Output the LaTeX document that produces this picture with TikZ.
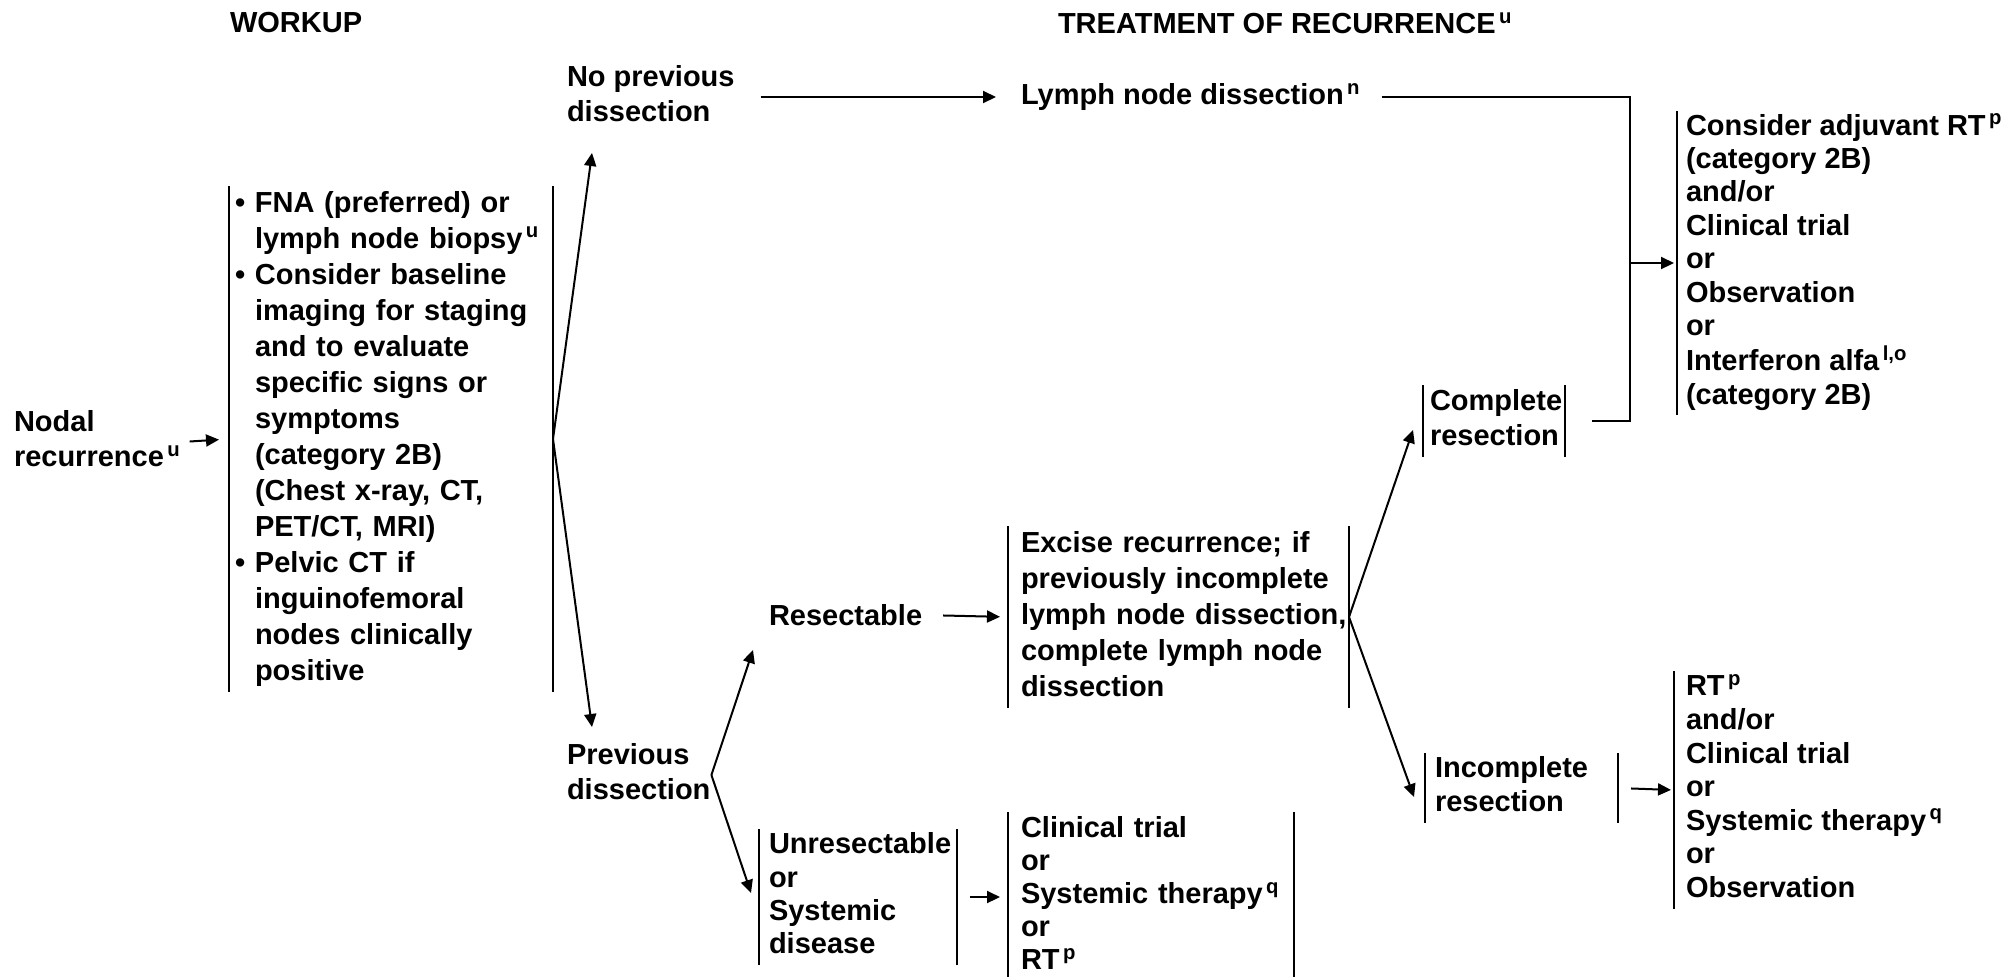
\documentclass[tikz,border=0pt]{standalone}
\usepackage{fontspec}
\setmainfont{Liberation Sans}
\usetikzlibrary{arrows.meta}
\newcommand{\fnm}[1]{\textsuperscript{\,#1}}
\newcommand{\tl}[1]{\begin{tabular}{@{}l@{}}#1\end{tabular}}
\newcommand{\bul}{\makebox[12.5pt][l]{\hspace*{2.5pt}\textbullet}}
\newcommand{\ind}{\hspace*{12.5pt}}
\newcommand{\fsz}[1]{\fontsize{14.5pt}{#1}\selectfont\bfseries}
\begin{document}
\begin{tikzpicture}[x=0.5pt,y=-0.5pt,line width=1pt,
  every node/.style={inner sep=0pt,anchor=west,align=left,font=\fsz{17.5pt}},
  arr/.style={-{Triangle[length=6.5pt,width=6pt]}},
  bx/.style={inner ysep=0pt}
]
\useasboundingbox (0,0) rectangle (2016,976);

% headers
\node (hw) at (229,23) {WORKUP};
\node (ht) at (1057,23) {TREATMENT OF RECURRENCE\fnm{u}};

% nodes
\node (nodal) at (13,442) {\tl{Nodal\\recurrence\fnm{u}}};
\node[bx,inner xsep=0pt,minimum height=251pt,text width=161pt,font=\fsz{18pt}] (wk) at (229,439) {\tl{%
\bul FNA (preferred) or\\
\ind lymph node biopsy\fnm{u}\\
\bul Consider baseline\\
\ind imaging for staging\\
\ind and to evaluate\\
\ind specific signs or\\
\ind symptoms\\
\ind (category 2B)\\
\ind (Chest x-ray, CT,\\
\ind PET/CT, MRI)\\
\bul Pelvic CT if\\
\ind inguinofemoral\\
\ind nodes clinically\\
\ind positive}};
\node (np) at (566,97) {\tl{No previous\\dissection}};
\node (lnd) at (1020,97) {Lymph node dissection\fnm{n}};
\node[bx,inner xsep=4pt,minimum height=150pt,font=\fsz{16.7pt}] (adj) at (1677,263) {\tl{%
Consider adjuvant RT\fnm{p}\\
(category 2B)\\
and/or\\
Clinical trial\\
or\\
Observation\\
or\\
Interferon alfa\fnm{l,o}\\
(category 2B)}};
\node[bx,inner xsep=3pt,minimum height=33.5pt,text width=64pt] (cr) at (1423,421) {\tl{Complete\\resection}};
\node (res) at (768,615) {Resectable};
\node[bx,inner xsep=6pt,minimum height=90pt,text width=157.5pt,font=\fsz{18pt}] (ex) at (1008,617) {\tl{%
Excise recurrence; if\\
previously incomplete\\
lymph node dissection,\\
complete lymph node\\
dissection}};
\node (prev) at (566,775) {\tl{Previous\\dissection}};
\node[bx,inner xsep=4.5pt,minimum height=65.5pt,text width=89pt,font=\fsz{16.7pt}] (un) at (759,897) {\tl{%
Unresectable\\
or\\
Systemic\\
disease}};
\node[bx,inner xsep=6pt,minimum height=84pt,text width=130pt,font=\fsz{16.5pt}] (ct) at (1008,897) {\tl{%
Clinical trial\\
or\\
Systemic therapy\fnm{q}\\
or\\
RT\fnm{p}}};
\node[bx,inner xsep=4.5pt,minimum height=31pt,text width=86.5pt,font=\fsz{17pt}] (inc) at (1425,788) {\tl{Incomplete\\resection}};
\node[bx,inner xsep=5.5pt,minimum height=116.5pt,font=\fsz{16.8pt}] (rt) at (1674,790) {\tl{%
RT\fnm{p}\\
and/or\\
Clinical trial\\
or\\
Systemic therapy\fnm{q}\\
or\\
Observation}};

% bars
\foreach \n in {wk,cr,ex,un,ct,inc}{
  \draw (\n.north west) -- (\n.south west) (\n.north east) -- (\n.south east);
}
\foreach \n in {adj,rt}{
  \draw (\n.north west) -- (\n.south west);
}

% coordinates
\coordinate (npin) at (592,153);
\coordinate (pvin) at (592,727);
\coordinate (resin) at (753,650);
\coordinate (unin) at (751,893);
\coordinate (crin) at (1413,430);
\coordinate (incin) at (1414,797);
\coordinate (jt) at (1630,97);
\coordinate (jb) at (1630,421);
\coordinate (jm) at (1630,263);

% connectors
\draw[arr,shorten <=4pt,shorten >=5pt] (nodal.east) -- (wk.west);
\draw[arr] (wk.east) -- (npin);
\draw[arr] (wk.east) -- (pvin);
\draw[arr,shorten <=12.5pt,shorten >=12pt] (np.east) -- (lnd.west);
\draw[shorten <=10pt] (lnd.east) -- (jt) -- (jb) -- ([xshift=13.5pt]cr.east);
\draw[arr,shorten >=1.5pt] (jm) -- (adj.west);
\draw[arr] (prev.east) -- (resin);
\draw[arr] (prev.east) -- (unin);
\draw[arr,shorten <=10pt,shorten >=4pt] (res.east) -- (ex.west);
\draw[arr] (ex.east) -- (crin);
\draw[arr] (ex.east) -- (incin);
\draw[arr,shorten <=6.5pt,shorten >=4pt] (un.east) -- (ct.west);
\draw[arr,shorten <=6.5pt,shorten >=1.5pt] (inc.east) -- (rt.west);
\end{tikzpicture}
\end{document}
